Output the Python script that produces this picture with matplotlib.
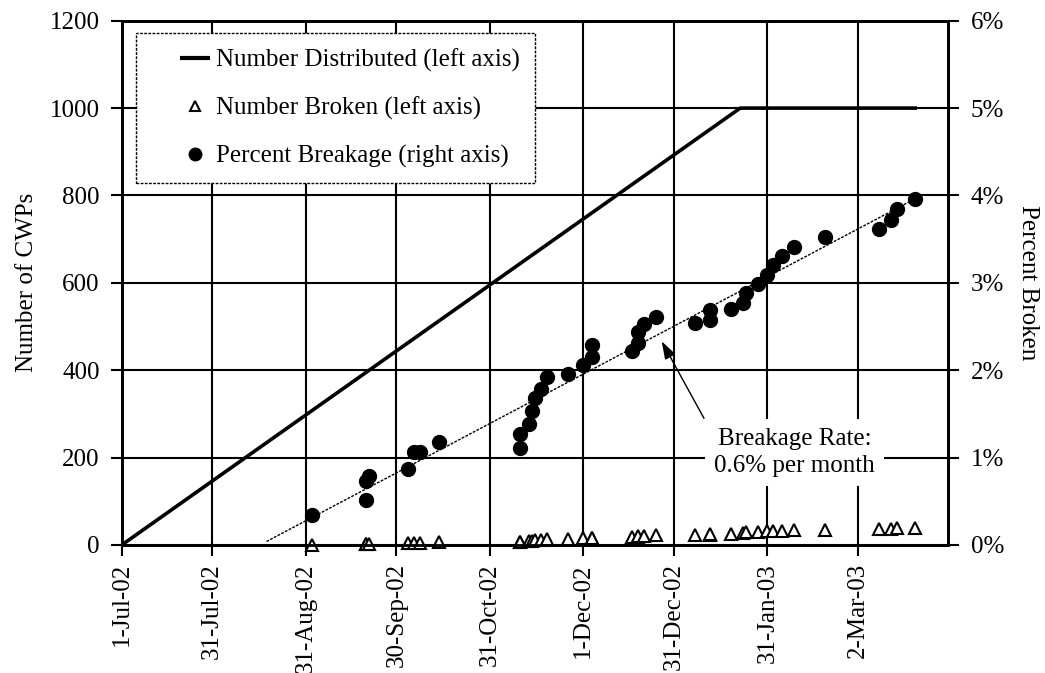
import matplotlib
matplotlib.use("Agg")
import matplotlib.pyplot as plt
from matplotlib.lines import Line2D
import pandas as pd

plt.rcParams['font.family'] = ['Liberation Serif', 'DejaVu Serif']

# Number distributed (left axis)
dist_dates = ['2002-07-01', '2003-01-22', '2003-03-21']
dist_values = [0, 1000, 1000]

# Breakage observations
obs_dates = ['2002-09-02', '2002-09-20', '2002-09-20', '2002-09-21', '2002-10-04',
             '2002-10-06', '2002-10-08', '2002-10-14', '2002-11-10', '2002-11-10',
             '2002-11-13', '2002-11-14', '2002-11-15', '2002-11-17', '2002-11-19',
             '2002-11-26', '2002-12-01', '2002-12-04', '2002-12-04', '2002-12-17',
             '2002-12-19', '2002-12-19', '2002-12-21', '2002-12-25', '2003-01-07',
             '2003-01-12', '2003-01-12', '2003-01-19', '2003-01-23', '2003-01-24',
             '2003-01-28', '2003-01-31', '2003-02-02', '2003-02-05', '2003-02-09',
             '2003-02-19', '2003-03-09', '2003-03-13', '2003-03-15', '2003-03-21']
pct_broken = [0.34, 0.52, 0.73, 0.79, 0.87, 1.07, 1.07, 1.18, 1.11, 1.27,
              1.39, 1.53, 1.68, 1.79, 1.92, 1.96, 2.06, 2.15, 2.29, 2.22,
              2.31, 2.44, 2.53, 2.61, 2.54, 2.58, 2.69, 2.70, 2.77, 2.88,
              2.99, 3.09, 3.20, 3.31, 3.41, 3.52, 3.62, 3.72, 3.84, 3.96]
num_broken = [1, 2, 3, 3, 4, 5, 5, 6, 7, 8,
              9, 10, 11, 12, 13, 14, 15, 16, 17, 18,
              19, 20, 21, 22, 23, 24, 25, 26, 28, 29,
              30, 31, 32, 33, 34, 35, 36, 37, 38, 40]

# linear breakage trend (right axis, percent)
trend_dates = ['2002-08-18', '2003-03-20']
trend_values = [0.04, 3.945]

tick_dates = ['2002-07-01', '2002-07-31', '2002-08-31', '2002-09-30', '2002-10-31',
              '2002-12-01', '2002-12-31', '2003-01-31', '2003-03-02']
tick_labels = ['1-Jul-02', '31-Jul-02', '31-Aug-02', '30-Sep-02', '31-Oct-02',
               '1-Dec-02', '31-Dec-02', '31-Jan-03', '2-Mar-03']

fs = 18

fig = plt.figure(figsize=(10.45, 6.73), dpi=100)
ax = fig.add_axes([0.1165, 0.1902, 0.791, 0.779])
ax2 = ax.twinx()

ax.plot(pd.to_datetime(dist_dates), dist_values, color='black', lw=2.6, zorder=3)
ax.plot(pd.to_datetime(obs_dates), num_broken, linestyle='none', marker='^',
        ms=8.5, mfc='white', mec='black', mew=1.5, zorder=4, clip_on=False)

ax2.plot(pd.to_datetime(trend_dates), trend_values, color='black', lw=1.0,
         dashes=(2, 1), zorder=3)
ax2.plot(pd.to_datetime(obs_dates), pct_broken, linestyle='none', marker='o',
         ms=10, color='black', zorder=4)

ax.set_xlim(pd.Timestamp('2002-07-01'), pd.Timestamp('2003-04-01'))
ax.set_ylim(0, 1200)
ax2.set_ylim(0, 6)
ax.set_yticks(range(0, 1201, 200))
ax2.set_yticks(range(0, 7))
ax2.set_yticklabels([f'{v}%' for v in range(0, 7)])
ax.set_xticks(pd.to_datetime(tick_dates))
ax.set_xticklabels(tick_labels, rotation=90)

ax.grid(True, color='black', lw=1.5)
for a in (ax, ax2):
    for s in a.spines.values():
        s.set_linewidth(2)
        s.set_color('black')
    a.tick_params(labelsize=fs, length=8, width=1.5, direction='out',
                  colors='black', pad=8)
ax.tick_params(axis='x', pad=5)

ax.set_ylabel('Number of CWPs', fontsize=fs, labelpad=8)
ax2.set_ylabel('Percent Broken', fontsize=fs, rotation=270, labelpad=25)

# annotation text and its arrow
ax2.text(pd.Timestamp('2003-02-09'), 1.06, 'Breakage Rate:\n0.6% per month',
         fontsize=fs, ha='center', va='center', linespacing=1.3, zorder=5,
         bbox=dict(boxstyle='square,pad=0.35', fc='white', ec='none'))
ax2.annotate('', xy=(pd.Timestamp('2002-12-27'), 2.33),
             xytext=(pd.Timestamp('2003-01-10'), 1.45),
             arrowprops=dict(arrowstyle='-|>,head_length=0.6,head_width=0.2',
                             color='black', lw=1.0, mutation_scale=18,
                             shrinkA=0, shrinkB=0))

handles = [Line2D([], [], linestyle='none', marker='_', ms=21, mew=3, color='black'),
           Line2D([], [], linestyle='none', marker='^', ms=7.5, mfc='white', mec='black', mew=1.5),
           Line2D([], [], linestyle='none', marker='o', ms=9, color='black')]
labels = ['Number Distributed (left axis)', 'Number Broken (left axis)',
          'Percent Breakage (right axis)']
leg = ax2.legend(handles, labels, loc='upper left', bbox_to_anchor=(0.017, 0.976),
                 fontsize=fs, frameon=True, fancybox=False, framealpha=1,
                 edgecolor='black', handlelength=3.5, handletextpad=-0.9,
                 labelspacing=1.0, borderpad=0.6, borderaxespad=0)
leg.get_frame().set_linestyle((0, (2, 1)))
leg.get_frame().set_linewidth(1.0)
leg.set_zorder(10)

fig.savefig('out.png', dpi=100)
